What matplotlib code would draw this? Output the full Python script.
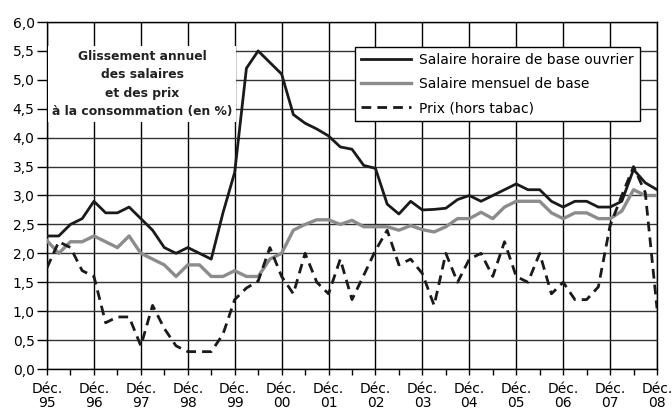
import matplotlib
matplotlib.use("Agg")
import matplotlib.pyplot as plt
import numpy as np
from matplotlib.ticker import FixedLocator, FuncFormatter

years = ["95", "96", "97", "98", "99", "00", "01", "02", "03", "04", "05", "06", "07", "08"]
tick_labels = ["Déc.\n" + y for y in years]

# quarterly values, Dec 1995 .. Dec 2008
salaire_horaire = [2.3,
                   2.3, 2.5, 2.6, 2.9,
                   2.7, 2.7, 2.8, 2.6,
                   2.4, 2.1, 2.0, 2.1,
                   2.0, 1.9, 2.7, 3.4,
                   5.2, 5.5, 5.3, 5.1,
                   4.4, 4.25, 4.15, 4.03,
                   3.84, 3.8, 3.52, 3.47,
                   2.85, 2.68, 2.9, 2.75,
                   2.76, 2.78, 2.93, 3.0,
                   2.9, 3.0, 3.1, 3.2,
                   3.1, 3.1, 2.9, 2.8,
                   2.9, 2.9, 2.8, 2.8,
                   2.9, 3.45, 3.22, 3.1]
salaire_mensuel = [2.22,
                   2.0, 2.2, 2.2, 2.3,
                   2.2, 2.1, 2.3, 2.0,
                   1.9, 1.8, 1.6, 1.8,
                   1.8, 1.6, 1.6, 1.7,
                   1.6, 1.6, 1.9, 2.0,
                   2.4, 2.5, 2.58, 2.58,
                   2.5, 2.57, 2.46, 2.46,
                   2.46, 2.4, 2.48, 2.41,
                   2.37, 2.46, 2.6, 2.6,
                   2.71, 2.6, 2.8, 2.9,
                   2.9, 2.9, 2.7, 2.6,
                   2.7, 2.7, 2.6, 2.6,
                   2.73, 3.1, 3.0, 3.0]
prix = [1.75,
        2.2, 2.1, 1.7, 1.6,
        0.8, 0.9, 0.9, 0.4,
        1.1, 0.7, 0.4, 0.3,
        0.3, 0.3, 0.6, 1.2,
        1.4, 1.52, 2.1, 1.6,
        1.3, 2.0, 1.5, 1.3,
        1.9, 1.2, 1.62, 2.05,
        2.4, 1.8, 1.9, 1.65,
        1.1, 2.0, 1.5, 1.9,
        2.0, 1.6, 2.2, 1.6,
        1.5, 2.0, 1.3, 1.5,
        1.2, 1.2, 1.42, 2.48,
        3.0, 3.5, 3.05, 1.05]

x = np.arange(len(prix))

fig = plt.figure(figsize=(6.72, 4.11), dpi=100)
ax = fig.add_axes([47/672, 1 - 369/411, (657 - 47)/672, (369 - 22)/411])

ax.plot(x, salaire_horaire, color="#1a1a1a", lw=2.0, label="Salaire horaire de base ouvrier", zorder=4)
ax.plot(x, salaire_mensuel, color="#8c8c8c", lw=2.4, label="Salaire mensuel de base", zorder=3)
ax.plot(x, prix, color="#1a1a1a", lw=2.0, ls=(0, (3.5, 2.2)), label="Prix (hors tabac)", zorder=5)

ax.set_xlim(0, 52)
ax.set_ylim(0, 6.0)
ax.xaxis.set_major_locator(FixedLocator(np.arange(0, 53, 4)))
ax.xaxis.set_minor_locator(FixedLocator(np.arange(2, 53, 4)))
ax.set_xticklabels(tick_labels)
ax.set_yticks(np.arange(0, 6.01, 0.5))
ax.yaxis.set_major_formatter(FuncFormatter(lambda v, p: f"{v:.1f}".replace(".", ",")))

ax.grid(True, axis="x", color="black", lw=1.0, zorder=1)
ax.grid(True, axis="y", color="#333333", lw=1.0, zorder=1)
for s in ax.spines.values():
    s.set_color("black")
    s.set_linewidth(1.0)

ax.tick_params(axis="y", which="major", length=7, width=1, labelsize=10, pad=2)
ax.tick_params(axis="x", which="major", length=4, width=1, labelsize=10, pad=5)
ax.tick_params(axis="x", which="minor", length=4, width=1)
for lab in ax.get_xticklabels():
    lab.set_linespacing(1.0)

ax.text(0.156, 0.822, "Glissement annuel\ndes salaires\net des prix\nà la consommation (en %)",
        transform=ax.transAxes, ha="center", va="center", fontsize=8.9, fontweight="bold",
        color="#222222", linespacing=1.55, zorder=6,
        bbox=dict(boxstyle="square,pad=0.3", facecolor="white", edgecolor="none"))

leg = ax.legend(loc="upper right", bbox_to_anchor=(0.984, 0.948), fontsize=10, frameon=True,
                fancybox=False, edgecolor="black", framealpha=1.0, handlelength=3.6,
                borderpad=0.45, labelspacing=0.72, handletextpad=0.6)
leg.get_frame().set_linewidth(1.0)
leg.set_zorder(7)

fig.savefig("out.png", dpi=100)
